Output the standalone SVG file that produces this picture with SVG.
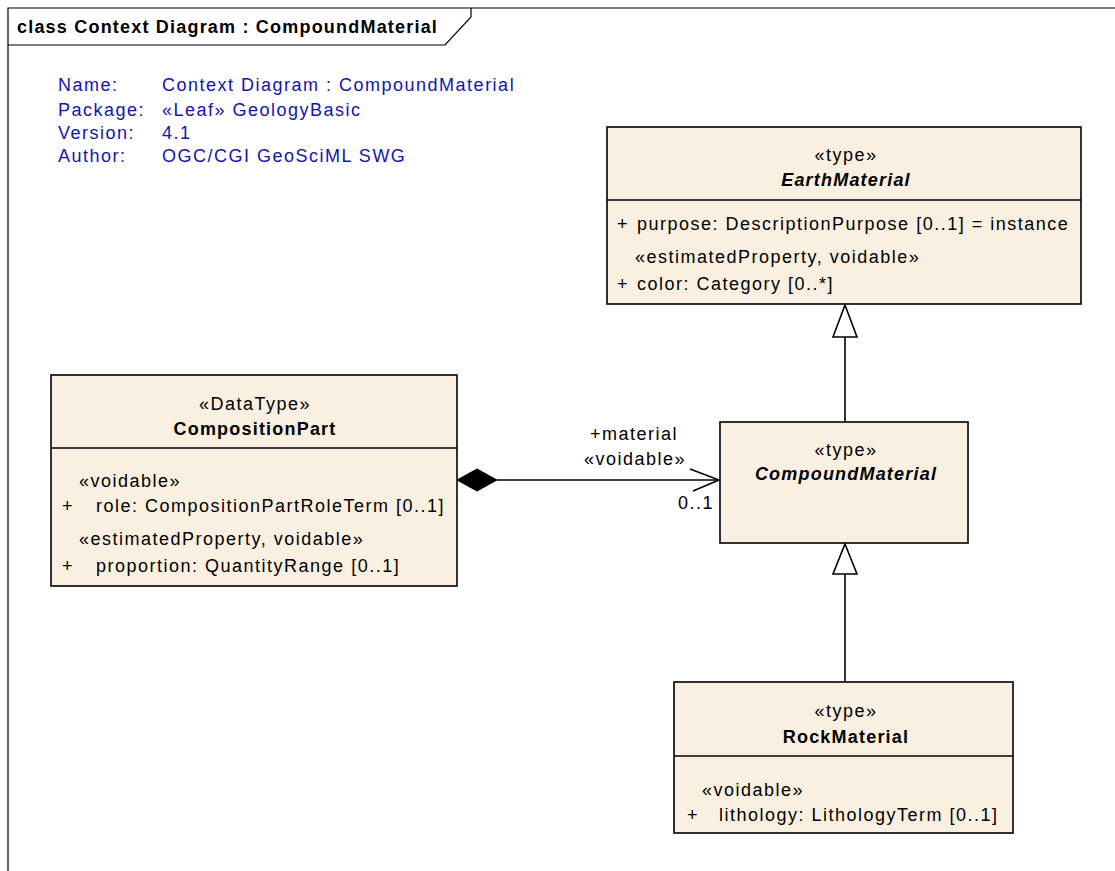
<svg xmlns="http://www.w3.org/2000/svg" width="1115" height="871" viewBox="0 0 1115 871">
  <style>
    text { font-family: "Liberation Sans", Arial, sans-serif; font-size: 18px; letter-spacing: 1.5px; fill: #000; }
    .info { fill: #1414b0; }
    .title { font-weight: bold; letter-spacing: 1.2px; }
    .c { text-anchor: middle; }
    .name { font-weight: bold; letter-spacing: 1.2px; }
    .abstract { font-weight: bold; font-style: italic; letter-spacing: 1.2px; }
    .box { fill: #faf0e1; stroke: #000; stroke-width: 1.6; }
    .div { stroke: #000; stroke-width: 1.6; }
    .edge { fill: none; stroke: #000; stroke-width: 1.6; }
  </style>
  <rect width="1115" height="871" fill="#fff"/>

  <!-- diagram frame and title tab -->
  <g id="frame">
    <path d="M8 871 V8 H1115" fill="none" stroke="#000" stroke-width="1.2"/>
    <path d="M8 45 H445 L471 17 V8" fill="none" stroke="#000" stroke-width="1.2"/>
    <text x="17" y="33" class="title">class Context Diagram : CompoundMaterial</text>
  </g>

  <!-- diagram properties -->
  <g id="info">
    <text x="58" y="91" class="info">Name:</text>
    <text x="162" y="91" class="info">Context Diagram : CompoundMaterial</text>
    <text x="58" y="116" class="info">Package:</text>
    <text x="162" y="116" class="info">«Leaf» GeologyBasic</text>
    <text x="58" y="139" class="info">Version:</text>
    <text x="162" y="139" class="info">4.1</text>
    <text x="58" y="162" class="info">Author:</text>
    <text x="162" y="162" class="info">OGC/CGI GeoSciML SWG</text>
  </g>

  <!-- connectors -->
  <g id="connectors">
    <!-- composition CompositionPart -> CompoundMaterial -->
    <line x1="497" y1="480" x2="719" y2="480" class="edge"/>
    <polygon points="457,480 477,469 497,480 477,491" fill="#000" stroke="#000" stroke-width="1"/>
    <polyline points="690,469 719,480 693,491" class="edge"/>
    <text x="634" y="440" class="c">+material</text>
    <text x="635" y="465" class="c">«voidable»</text>
    <text x="714" y="509" text-anchor="end">0..1</text>
    <!-- generalization CompoundMaterial -> EarthMaterial -->
    <line x1="845" y1="422" x2="845" y2="337" class="edge"/>
    <polygon points="845,305 857,337 833,337" fill="#fff" stroke="#000" stroke-width="1.6"/>
    <!-- generalization RockMaterial -> CompoundMaterial -->
    <line x1="845" y1="682" x2="845" y2="574" class="edge"/>
    <polygon points="845,544 857,574 833,574" fill="#fff" stroke="#000" stroke-width="1.6"/>
  </g>

  <g id="EarthMaterial">
    <rect x="607" y="127" width="474" height="177" class="box"/>
    <line x1="607" y1="200" x2="1081" y2="200" class="div"/>
    <text x="846" y="161" class="c">«type»</text>
    <text x="846" y="186" class="c abstract">EarthMaterial</text>
    <text x="617" y="230">+</text>
    <text x="637" y="230">purpose: DescriptionPurpose [0..1] = instance</text>
    <text x="635" y="263">«estimatedProperty, voidable»</text>
    <text x="617" y="290">+</text>
    <text x="637" y="290">color: Category [0..*]</text>
  </g>

  <g id="CompositionPart">
    <rect x="51" y="375" width="406" height="211" class="box"/>
    <line x1="51" y1="448" x2="457" y2="448" class="div"/>
    <text x="255" y="410" class="c">«DataType»</text>
    <text x="255" y="435" class="c name">CompositionPart</text>
    <text x="79" y="487">«voidable»</text>
    <text x="62" y="512">+</text>
    <text x="96" y="512">role: CompositionPartRoleTerm [0..1]</text>
    <text x="79" y="545">«estimatedProperty, voidable»</text>
    <text x="62" y="572">+</text>
    <text x="96" y="572">proportion: QuantityRange [0..1]</text>
  </g>

  <g id="CompoundMaterial">
    <rect x="720" y="422" width="248" height="121" class="box"/>
    <text x="846" y="456" class="c">«type»</text>
    <text x="846" y="480" class="c abstract">CompoundMaterial</text>
  </g>

  <g id="RockMaterial">
    <rect x="674" y="682" width="339" height="151" class="box"/>
    <line x1="674" y1="756" x2="1013" y2="756" class="div"/>
    <text x="846" y="717" class="c">«type»</text>
    <text x="846" y="743" class="c name">RockMaterial</text>
    <text x="702" y="796">«voidable»</text>
    <text x="687" y="821">+</text>
    <text x="719" y="821">lithology: LithologyTerm [0..1]</text>
  </g>
</svg>
